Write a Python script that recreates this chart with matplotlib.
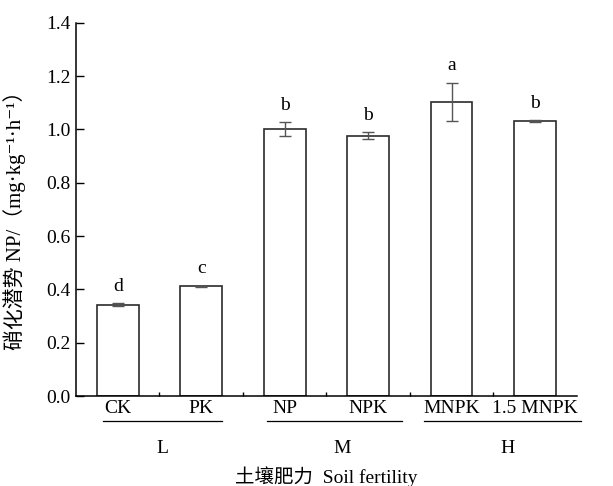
import matplotlib
matplotlib.use("Agg")
import matplotlib.pyplot as plt
import numpy as np

# data
treatments = ["CK", "PK", "NP", "NPK", "MNPK", "1.5 MNPK"]
np_values = [0.343, 0.412, 1.002, 0.977, 1.104, 1.031]
np_errors = [0.005, 0.002, 0.026, 0.014, 0.072, 0.003]
letters = ["d", "c", "b", "b", "a", "b"]
groups = ["L", "M", "H"]

serif = ["Liberation Serif", "Noto Sans CJK SC", "DejaVu Sans"]
plt.rcParams["font.family"] = serif
plt.rcParams["axes.unicode_minus"] = False

fig = plt.figure(figsize=(6.13, 4.86), dpi=100)
ax = fig.add_axes([0.124, 0.185, 0.817, 0.768])

x = np.arange(1, len(treatments) + 1)
ax.bar(x, np_values, width=0.5, color="white", edgecolor="#2b2b2b", linewidth=1.2, zorder=2)
ax.errorbar(x, np_values, yerr=np_errors, fmt="none", ecolor="#555555",
            elinewidth=1.0, capsize=4, capthick=1.0, zorder=3)

for xi, v, e, lab in zip(x, np_values, np_errors, letters):
    ax.annotate(lab, (xi, v + e), xytext=(0, 6), textcoords="offset points",
                ha="center", va="bottom", fontsize=14)

ax.set_xlim(0.5, 6.5)
ax.set_ylim(0, 1.4)
ax.set_yticks(np.arange(0, 1.41, 0.2))
ax.set_yticklabels([f"{t:.1f}" for t in np.arange(0, 1.41, 0.2)], fontsize=14)
ax.set_xticks(x)
ax.set_xticklabels(treatments, fontsize=14)
ax.set_xticks(np.arange(1.5, 6, 1.0), minor=True)
ax.tick_params(axis="x", which="major", length=0, pad=3)
ax.tick_params(axis="x", which="minor", direction="in", length=3, width=1)
ax.tick_params(axis="y", direction="in", length=6, width=1, pad=4)

for s in ["top", "right"]:
    ax.spines[s].set_visible(False)
for s in ["left", "bottom"]:
    ax.spines[s].set_linewidth(1.1)

# group lines + labels under the tick labels
group_spans = [(0.82, 2.25), (2.79, 4.40), (4.67, 6.55)]
group_pos = [1.54, 3.69, 5.67]
trans = ax.get_xaxis_transform()
for (a, b), gx, g in zip(group_spans, group_pos, groups):
    ax.plot([a, b], [-0.067, -0.067], transform=trans, color="black", lw=0.9, clip_on=False)
    ax.text(gx, -0.14, g, transform=trans, ha="center", va="center", fontsize=14)

ax.text(0.5, -0.217, "土壤肥力  Soil fertility", transform=ax.transAxes,
        ha="center", va="center", fontsize=14)
ax.set_ylabel("硝化潜势 NP/（mg·kg⁻¹·h⁻¹）", fontsize=15)
ax.yaxis.set_label_coords(-0.1, 0.485)

fig.savefig("out.png", dpi=100)
